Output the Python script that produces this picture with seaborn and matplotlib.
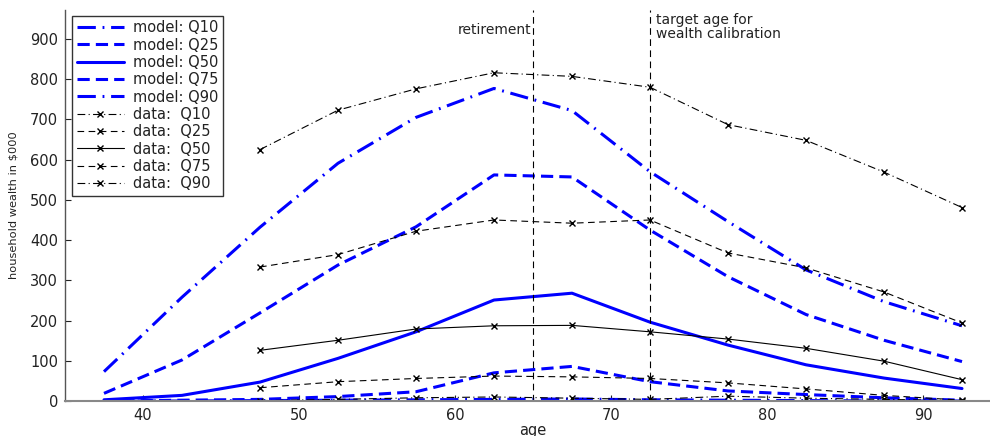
import matplotlib
matplotlib.use("Agg")
import matplotlib.pyplot as plt
import seaborn as sns

# ages at which model and data are reported
model_age = [37.5, 42.5, 47.5, 52.5, 57.5, 62.5, 67.5, 72.5, 77.5, 82.5, 87.5, 92.5]
data_age = [47.5, 52.5, 57.5, 62.5, 67.5, 72.5, 77.5, 82.5, 87.5, 92.5]

# model quantiles ($000)
model_q10 = [0, 0, 1, 2, 3, 4, 5, 3, 2, 1, 0, 0]
model_q25 = [0, 2, 4, 11, 23, 70, 86, 48, 25, 16, 8, 2]
model_q50 = [3, 14, 47, 106, 172, 251, 268, 196, 139, 90, 57, 31]
model_q75 = [19, 102, 219, 338, 433, 562, 557, 425, 309, 215, 151, 98]
model_q90 = [73, 258, 432, 591, 705, 777, 722, 570, 446, 326, 247, 187]

# data quantiles ($000)
data_q10 = [1, 4, 8, 10, 7, 4, 12, 7, 4, 1]
data_q25 = [33, 48, 56, 62, 60, 56, 45, 30, 14, 2]
data_q50 = [126, 151, 179, 187, 188, 172, 154, 131, 99, 53]
data_q75 = [333, 364, 422, 450, 442, 450, 368, 331, 271, 194]
data_q90 = [625, 723, 776, 816, 807, 780, 687, 648, 569, 481]

retire_age = 65
target_age = 72.5

sns.set_theme(style="ticks")
plt.rcParams['font.family'] = ['DejaVu Sans']

fig = plt.figure(figsize=(9.9, 4.36), dpi=100)
ax = fig.add_axes([65 / 990, 35 / 436, 936 / 990, 391 / 436])

dashdot_m = (0, (6, 2.2, 0.6, 2.2))
dash_m = (0, (4, 2))
dashdot_d = (0, (7, 3, 1, 3))
dash_d = (0, (6, 4))

model_lines = [
    ("model: Q10", model_q10, dashdot_m),
    ("model: Q25", model_q25, dash_m),
    ("model: Q50", model_q50, "-"),
    ("model: Q75", model_q75, dash_m),
    ("model: Q90", model_q90, dashdot_m),
]
data_lines = [
    ("data:  Q10", data_q10, dashdot_d),
    ("data:  Q25", data_q25, dash_d),
    ("data:  Q50", data_q50, "-"),
    ("data:  Q75", data_q75, dash_d),
    ("data:  Q90", data_q90, dashdot_d),
]

for label, vals, ls in model_lines:
    sns.lineplot(x=model_age, y=vals, ax=ax, color="#0000ff", linewidth=2.2,
                 linestyle=ls, label=label)
for label, vals, ls in data_lines:
    sns.lineplot(x=data_age, y=vals, ax=ax, color="black", linewidth=0.8,
                 linestyle=ls, marker="x", markersize=5, markeredgewidth=1,
                 markeredgecolor="black", label=label)

# reference ages
for a in (retire_age, target_age):
    ax.axvline(a, color="black", linewidth=0.8, linestyle=(0, (6, 4)))
ax.text(retire_age - 0.1, 922, "retirement", ha="right", va="center",
        fontsize=10, color="#222222")
ax.text(target_age + 0.4, 965, "target age for\nwealth calibration",
        ha="left", va="top", fontsize=10, linespacing=1.0, color="#222222")

ax.set_xlim(35, 95)
ax.set_ylim(0, 972)
ax.set_xticks(range(40, 91, 10))
ax.set_yticks(range(0, 901, 100))
ax.tick_params(direction="in", length=4, width=0.8, labelsize=10.5,
               colors="#222222", pad=5)
ax.set_xlabel("age", fontsize=10.5, labelpad=0, color="#222222")
ax.set_ylabel("household wealth in $000", fontsize=8.2, labelpad=8,
              color="#222222")

ax.spines["top"].set_visible(False)
ax.spines["right"].set_visible(False)
ax.spines["left"].set_color("#555555")
ax.spines["left"].set_linewidth(1.0)
ax.spines["bottom"].set_color("#888888")
ax.spines["bottom"].set_linewidth(1.5)

leg = ax.legend(loc="upper left", bbox_to_anchor=(0.008, 0.985), fontsize=10.5,
                frameon=True, fancybox=False, edgecolor="black",
                handlelength=3.2, handletextpad=0.65, labelspacing=0.16,
                borderpad=0.3, borderaxespad=0)
leg.get_frame().set_linewidth(1.0)
for t in leg.get_texts():
    t.set_color("#222222")

fig.savefig("out.png", dpi=100)
plt.close(fig)
